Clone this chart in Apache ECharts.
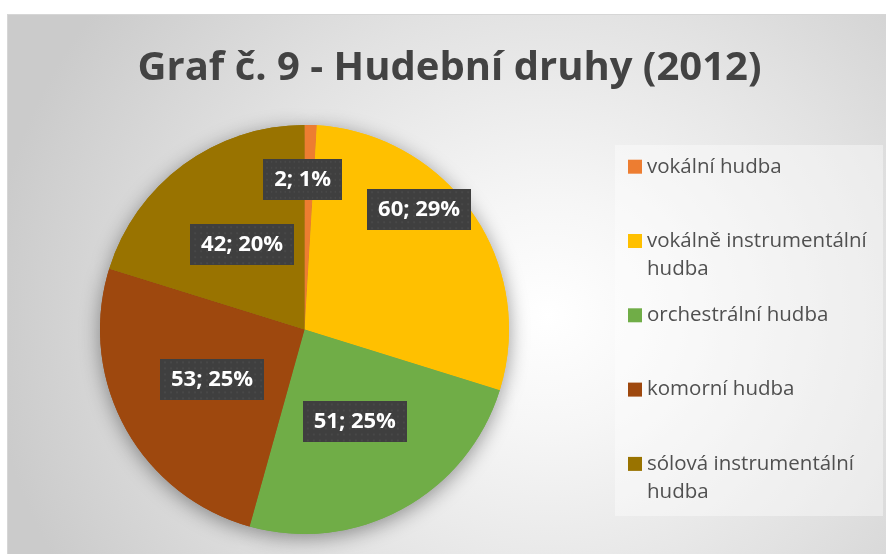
<!DOCTYPE html>
<html>
<head>
<meta charset="utf-8">
<script src="https://cdn.jsdelivr.net/npm/echarts@6/dist/echarts.min.js"></script>
<style>
html, body { margin: 0; padding: 0; background: #ffffff; width: 886px; height: 554px; overflow: hidden; }
#bg {
  position: absolute; left: 7px; top: 14px; width: 880px; height: 541px;
  border-top: 1px solid #d6d6d6; border-left: 1px solid #d6d6d6;
  background: radial-gradient(ellipse 560px 520px at 540px 300px, #ffffff 0%, #f6f6f6 22%, #e2e2e2 60%, #cbcbcb 100%);
}
#chart { position: absolute; left: 0; top: 0; width: 886px; height: 554px; }
</style>
</head>
<body>
<div id="bg"></div>
<div id="chart"></div>
<script>
// ---- data ----
const titleText = 'Graf č. 9 - Hudební druhy (2012)';
const categories = ['vokální hudba', 'vokálně instrumentální hudba', 'orchestrální hudba', 'komorní hudba', 'sólová instrumentální hudba'];
const values = [2, 60, 51, 53, 42];
const colors = ['#ED7D31', '#FFC000', '#70AD47', '#9E480E', '#997300'];

// ---- layout / style ----
const labelShift = [[-5, -45], [28, -60], [0, 0], [0, 0], [0, 0]];
const legendFont = 20.5, legendLine = 28, legendTextWidth = 236;

const cvs = document.createElement('canvas').getContext('2d');
cvs.font = legendFont + 'px "Open Sans"';
function wrapLines(s) {
  const words = s.split(' ');
  const lines = [];
  let cur = '';
  words.forEach(w => {
    const t = cur ? cur + ' ' + w : w;
    if (cur && cvs.measureText(t).width > legendTextWidth) { lines.push(cur); cur = w; }
    else cur = t;
  });
  if (cur) lines.push(cur);
  return lines;
}

// dotted dark texture for the data-label boxes
const tex = document.createElement('canvas');
tex.width = 104; tex.height = 41;
(function () {
  const c = tex.getContext('2d');
  c.fillStyle = '#3f3f3f';
  c.fillRect(0, 0, tex.width, tex.height);
  c.fillStyle = '#4d4d4d';
  for (let y = 3; y < tex.height; y += 6) {
    for (let x = ((y / 6) % 2 ? 3 : 0) + 2; x < tex.width; x += 6) {
      c.beginPath(); c.arc(x, y, 1, 0, Math.PI * 2); c.fill();
    }
  }
})();

const pieData = categories.map((n, i) => ({ name: n, value: values[i], itemStyle: { color: colors[i] } }));

const chart = echarts.init(document.getElementById('chart'), null, { renderer: 'canvas' });
chart.setOption({
  animation: false,
  backgroundColor: 'transparent',
  title: {
    text: titleText,
    left: 449.5,
    top: 49,
    padding: 0,
    textAlign: 'center',
    textVerticalAlign: 'top',
    textStyle: { fontFamily: 'Open Sans', fontWeight: 'bold', fontSize: 40, color: '#434343' }
  },
  graphic: [{
    type: 'rect', z: 0, silent: true,
    shape: { x: 615, y: 145, width: 268, height: 371 },
    style: { fill: 'rgba(255,255,255,0.4)' }
  }],
  legend: {
    orient: 'vertical', left: 628, top: 124.7, padding: 0,
    itemWidth: 14, itemHeight: 14, itemGap: -9.7, icon: 'rect',
    selectedMode: false,
    formatter: function (name) {
      return wrapLines(name).map(l => '{t|' + l + '}').join('\n');
    },
    textStyle: {
      fontFamily: 'Open Sans', fontSize: legendFont, color: '#505050', lineHeight: legendLine,
      backgroundColor: 'rgba(0,0,0,0)',
      rich: { t: { fontFamily: 'Open Sans', fontSize: legendFont, color: '#505050', lineHeight: legendLine } }
    },
    data: categories.map(n => ({
      name: n,
      textStyle: { padding: wrapLines(n).length > 1 ? [legendLine, 0, 0, 0] : [legendLine, 0, legendLine, 0] }
    }))
  },
  series: [
    {
      name: 'shadow', type: 'pie', silent: true, z: 1,
      center: [304.5, 329.5], radius: 204.5, startAngle: 90, clockwise: true,
      data: pieData,
      label: { show: false }, labelLine: { show: false },
      itemStyle: { shadowBlur: 20, shadowOffsetY: 4, shadowColor: 'rgba(0,0,0,0.4)' },
      emphasis: { disabled: true }
    },
    {
      name: 'Hudební druhy', type: 'pie', z: 2,
      center: [304.5, 329.5], radius: 204.5, startAngle: 90, clockwise: true,
      percentPrecision: 0,
      data: pieData,
      emphasis: { disabled: true },
      labelLine: { show: false },
      label: {
        show: true, position: 'inside',
        formatter: '{c}; {d}%',
        fontFamily: 'Open Sans', fontWeight: 'bold', fontSize: 22, color: '#ffffff',
        backgroundColor: { image: tex }, padding: [5, 11, 6, 11], lineHeight: 30,
        shadowBlur: 5, shadowOffsetX: 3, shadowOffsetY: 3, shadowColor: 'rgba(0,0,0,0.5)'
      },
      labelLayout: function (p) {
        const s = labelShift[p.dataIndex] || [0, 0];
        return { dx: s[0], dy: s[1] };
      }
    }
  ]
});
</script>
</body>
</html>
